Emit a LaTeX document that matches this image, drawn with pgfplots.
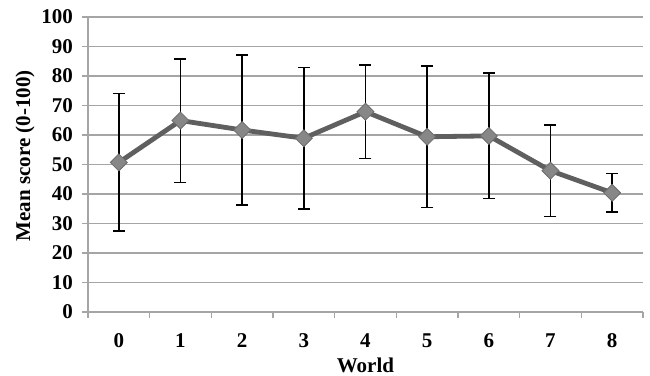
\documentclass[border=0pt]{standalone}
\usepackage{pgfplots}
\pgfplotsset{compat=1.18}
\usepackage{fontspec}
\setmainfont{Liberation Serif}
\definecolor{gridc}{RGB}{165,165,165}
\definecolor{linec}{RGB}{95,95,95}
\definecolor{markc}{RGB}{135,135,135}
\begin{document}
\begin{tikzpicture}
\begin{axis}[
  name=ax,
  scale only axis,
  width=277.5pt, height=147.5pt,
  xmin=-0.5, xmax=8.5, ymin=0, ymax=100,
  ytick={0,10,...,100},
  xtick={0,...,8},
  minor xtick={-0.5,0.5,...,8.5},
  axis lines*=left,
  axis line style={gridc, line width=0.8pt},
  ymajorgrids,
  grid style={gridc, line width=0.8pt},
  tick align=outside,
  major tick length=3pt,
  minor tick length=3pt,
  major x tick style={draw=none},
  minor x tick style={gridc, line width=0.8pt},
  y tick style={gridc, line width=0.8pt},
  tick label style={font=\fontsize{10.5}{12}\selectfont\bfseries},
  /pgf/number format/assume math mode=true,
  xticklabel style={anchor=center, yshift=-11.5pt},
  yticklabel style={anchor=east, xshift=-1pt},
  xlabel={World},
  ylabel={Mean score (0-100)},
  every axis y label/.style={at={(axis description cs:-0.1135,0.53)}, rotate=90, anchor=center, font=\fontsize{10.5}{12}\selectfont\bfseries},
  every axis x label/.style={at={(axis description cs:0.5,-0.18)}, anchor=center, font=\fontsize{10.5}{12}\selectfont\bfseries},
]
\addplot[color=linec, line width=2.4pt,
  mark=square*, mark size=3pt,
  mark options={rotate=45, fill=markc, draw=markc!80!black, line width=0.4pt},
  error bars/.cd, y dir=both, y explicit,
  error bar style={black, line width=0.7pt},
  error mark options={black, rotate=90, mark size=3pt, line width=0.7pt}]
coordinates {
(0,50.7) +- (0,23.3)
(1,64.9) +- (0,20.9)
(2,61.7) +- (0,25.4)
(3,58.9) +- (0,24.0)
(4,67.9) +- (0,15.8)
(5,59.4) +- (0,24.0)
(6,59.7) +- (0,21.3)
(7,47.9) +- (0,15.5)
(8,40.4) +- (0,6.5)
};
\end{axis}
\pgfresetboundingbox
\path[use as bounding box] ([xshift=-44pt,yshift=-32pt]ax.south west) rectangle ++(325pt,188pt);
\end{tikzpicture}
\end{document}
